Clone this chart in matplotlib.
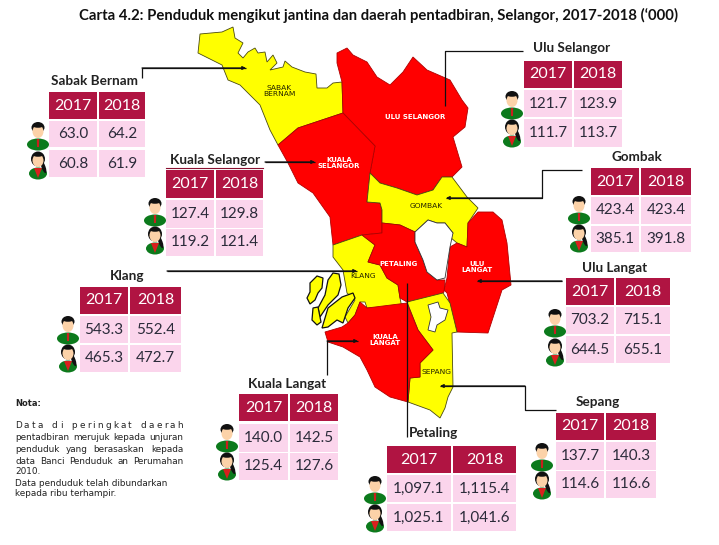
import matplotlib
matplotlib.use('Agg')
import matplotlib.pyplot as plt
from matplotlib.patches import Polygon, Rectangle, Ellipse

plt.rcParams['font.family'] = ['Lato', 'DejaVu Sans']

years = ['2017', '2018']

# lelaki, perempuan ('000)
sabak_bernam = [['63.0', '64.2'], ['60.8', '61.9']]
ulu_selangor = [['121.7', '123.9'], ['111.7', '113.7']]
kuala_selangor = [['127.4', '129.8'], ['119.2', '121.4']]
gombak = [['423.4', '423.4'], ['385.1', '391.8']]
klang = [['543.3', '552.4'], ['465.3', '472.7']]
ulu_langat = [['703.2', '715.1'], ['644.5', '655.1']]
kuala_langat = [['140.0', '142.5'], ['125.4', '127.6']]
sepang = [['137.7', '140.3'], ['114.6', '116.6']]
petaling = [['1,097.1', '1,115.4'], ['1,025.1', '1,041.6']]

RED = '#ff0000'
YELLOW = '#ffff00'
CRIMSON = '#b01442'
PINK = '#fbd5ec'
EDGE = '#4a4a10'

# map outlines, pixel coords
p_sabak = [(200,34),(222,32),(233,27),(235,38),(243,43),(238,53),(243,58),(248,52),(255,48),(258,53),
           (265,52),(267,62),(273,55),(277,63),(270,70),(283,67),(285,61),(292,67),(305,72),(316,74),
           (317,88),(327,88),(333,83),(342,82),(343,113),(298,128),(278,145),(270,130),(260,105),
           (240,85),(228,80),(222,65),(198,53)]
p_kuala_sel = [(343,113),(375,146),(370,173),(367,202),(380,203),(382,210),(382,233),(362,235),(333,245),
               (330,217),(313,193),(298,183),(288,163),(278,145),(298,128)]
p_ulu_sel = [(337,53),(347,48),(353,55),(367,62),(377,77),(390,85),(403,72),(413,57),(427,70),(450,80),
             (462,100),(468,108),(465,127),(453,137),(462,167),(452,177),(442,177),(433,190),(417,195),
             (397,188),(380,183),(370,173),(375,146),(343,113),(342,82),(337,63)]
p_gombak = [(370,173),(380,183),(397,188),(417,195),(433,190),(442,177),(452,177),(467,197),(478,208),
            (468,223),(467,247),(457,243),(450,237),(453,233),(445,223),(437,223),(428,220),(415,232),
            (400,225),(382,223),(382,210),(380,203),(367,202)]
p_kl = [(428,220),(437,223),(445,223),(453,233),(450,247),(445,278),(437,280),(427,272),(423,260),
        (415,242),(415,232)]
p_ulu_langat = [(478,212),(493,212),(502,220),(507,243),(511,285),(502,290),(488,333),(457,332),(447,293),
                (444,290),(447,278),(450,247),(457,243),(467,247),(468,223)]
p_petaling = [(382,223),(400,225),(415,232),(415,242),(423,260),(427,272),(437,280),(445,280),(444,292),
              (433,300),(407,302),(400,298),(398,285),(387,278),(380,265),(368,262),(375,245),(362,235),(382,233)]
p_klang = [(333,245),(362,235),(375,245),(368,262),(380,265),(387,278),(398,285),(400,298),(402,308),(367,308),
           (365,302),(360,302),(355,315),(348,323),(345,317),(355,300),(347,293),(343,270),(333,257)]
p_kuala_langat = [(360,302),(367,308),(407,303),(418,330),(433,350),(420,363),(420,377),(410,378),(408,402),
                  (390,397),(375,387),(367,370),(360,357),(343,347),(328,342),(325,332),(342,327),(348,323),(355,315)]
p_sepang = [(407,302),(443,293),(450,303),(457,332),(452,333),(453,387),(448,397),(445,408),(440,418),
            (430,410),(408,402),(410,378),(420,377),(420,363),(433,350),(418,330)]
p_sepang_hole = [(428,305),(438,302),(440,308),(448,310),(445,320),(437,325),(435,332),(428,330),(431,317)]
islands = [[(310,283),(317,276),(323,278),(322,288),(318,293),(315,300),(310,304),(307,298),(310,292)],
           [(328,280),(333,273),(339,274),(341,285),(338,295),(328,305),(320,317),(318,308),(325,295)],
           [(313,308),(318,307),(321,322),(317,325),(312,320)],
           [(342,297),(353,293),(355,298),(348,308),(343,323),(337,320),(328,327),(322,328),(328,308)]]

fig = plt.figure(figsize=(7.19, 5.45), dpi=100)
ax = fig.add_axes([0, 0, 1, 1])
ax.set_xlim(0, 719)
ax.set_ylim(545, 0)
ax.axis('off')

for pts, col in [(p_sabak, YELLOW), (p_ulu_sel, RED), (p_kuala_sel, RED), (p_gombak, YELLOW),
                 (p_ulu_langat, RED), (p_klang, YELLOW), (p_petaling, RED), (p_sepang, YELLOW),
                 (p_kuala_langat, RED)]:
    ec = EDGE if col == YELLOW else '#b00000'
    ax.add_patch(Polygon(pts, closed=True, fc=col, ec=ec, lw=0.6, zorder=2))
for pts in [p_kl, p_sepang_hole]:
    ax.add_patch(Polygon(pts, closed=True, fc='white', ec='#333333', lw=0.6, zorder=3))
for pts in islands:
    ax.add_patch(Polygon(pts, closed=True, fc=YELLOW, ec='#111111', lw=0.9, zorder=3))

map_labels = [(279, 91, 'SABAK\nBERNAM', 'k'), (415, 117, 'ULU SELANGOR', 'w'), (339, 163, 'KUALA\nSELANGOR', 'w'),
              (426, 206, 'GOMBAK', 'k'), (363, 276, 'KLANG', 'k'), (399, 264, 'PETALING', 'w'),
              (477, 267, 'ULU\nLANGAT', 'w'), (385, 340, 'KUALA\nLANGAT', 'w'), (437, 372, 'SEPANG', 'k')]
for x, y, s, c in map_labels:
    if c == 'w':
        ax.text(x, y, s, color=c, fontsize=5, fontweight='bold', ha='center', va='center',
                linespacing=1.05, zorder=5, family='DejaVu Sans')
    else:
        ax.text(x, y, s, color='#222200', fontsize=5.4, ha='center', va='center',
                linespacing=1.2, zorder=5, family='DejaVu Sans')

# leader lines, last point carries the arrow when the flag says so
leaders = [([(142, 78), (142, 68), (246, 68)], True),
           ([(523, 51), (445, 51), (445, 106)], False),
           ([(265, 162), (315, 162)], True),
           ([(582, 170), (542, 170), (542, 198), (446, 198)], True),
           ([(167, 271), (357, 271)], True),
           ([(562, 281), (477, 281)], True),
           ([(327, 375), (327, 341), (358, 341)], True),
           ([(556, 410), (525, 410), (525, 386), (440, 386)], True),
           ([(407, 437), (407, 283)], False)]
for pts, arrow in leaders:
    xs, ys = zip(*pts)
    ax.plot(xs, ys, color='#111111', lw=0.9, zorder=6, solid_capstyle='butt')
    if arrow:
        ax.annotate('', xy=pts[-1], xytext=pts[-2], zorder=6,
                    arrowprops=dict(arrowstyle='-|>', color='#111111', lw=0.9, mutation_scale=5,
                                    shrinkA=0, shrinkB=0))


def person(cx, cy, female=False):
    # little figure, cy is the middle of it
    w = 18 if female else 22
    ax.add_patch(Ellipse((cx, cy + 8.5), w, 12, fc='#0c7a1c', ec='none', zorder=4))
    if female:
        # red collar, hair falling to the right
        ax.add_patch(Polygon([(cx - 4, cy + 3), (cx + 4, cy + 3), (cx, cy + 13)],
                             closed=True, fc='#d8201e', ec='none', zorder=5))
        ax.add_patch(Ellipse((cx + 5.5, cy + 2), 4, 13, angle=-20, fc='#111111', ec='none', zorder=6))
        ax.add_patch(Ellipse((cx, cy - 6), 14, 15, fc='#111111', ec='none', zorder=6))
    else:
        ax.add_patch(Polygon([(cx - 1.2, cy + 3), (cx + 1.2, cy + 3), (cx + 1, cy + 11), (cx - 1, cy + 11)],
                             closed=True, fc='#c8201e', ec='none', zorder=5))
        ax.add_patch(Ellipse((cx, cy - 8.5), 13, 11, fc='#111111', ec='none', zorder=6))
    ax.add_patch(Ellipse((cx, cy - 4.5), 11, 13, fc='#fcd2a8', ec='none', zorder=7))
    ax.add_patch(Ellipse((cx, cy - 10), 10, 3.5, fc='#111111', ec='none', zorder=8))


def table(name, vals, title_x, title_y, x1, x2, x3, x4, y1, y2, y3, y4, y5, y6, ix, iy1, iy2):
    ax.text(title_x, title_y, name, fontsize=9.7, fontweight='bold', color='#222222', ha='left', va='center', zorder=8)
    cols = [(x1, x2), (x3, x4)]
    for (a, b), yr in zip(cols, years):
        ax.add_patch(Rectangle((a, y1), b - a, y2 - y1, fc=CRIMSON, ec='none', zorder=4))
        ax.text((a + b) / 2, (y1 + y2) / 2, yr, color='white', fontsize=11.5, ha='center', va='center', zorder=8)
    for row, (top, bot) in zip(vals, [(y3, y4), (y5, y6)]):
        for (a, b), v in zip(cols, row):
            ax.add_patch(Rectangle((a, top), b - a, bot - top, fc=PINK, ec='none', zorder=4))
            ax.text((a + b) / 2, (top + bot) / 2, v, color='#2b2b3a', fontsize=11, ha='center', va='center', zorder=8)
    person(ix, iy1)
    person(ix, iy2, female=True)


table('Sabak Bernam', sabak_bernam, 51, 81, 49, 97, 99, 145, 92, 119, 121, 147, 150, 177, 38, 136, 165)
table('Ulu Selangor', ulu_selangor, 533, 48, 524, 572, 574, 622, 61, 88, 90, 117, 119, 147, 512, 105, 133)
table('Kuala Selangor', kuala_selangor, 170, 160, 166, 214, 216, 263, 170, 198, 200, 228, 229, 256, 155, 212, 240)
table('Gombak', gombak, 611, 157, 591, 639, 641, 691, 168, 195, 197, 224, 226, 252, 579, 210, 238)
table('Klang', klang, 110, 276, 80, 128, 130, 181, 287, 314, 316, 343, 345, 372, 68, 330, 358)
table('Ulu Langat', ulu_langat, 582, 268, 566, 614, 616, 670, 278, 305, 307, 334, 336, 363, 555, 323, 352)
table('Kuala Langat', kuala_langat, 248, 384, 239, 288, 290, 338, 394, 421, 424, 452, 453, 480, 227, 438, 466)
table('Sepang', sepang, 576, 402, 556, 604, 606, 656, 413, 440, 442, 470, 471, 498, 542, 457, 485)
table('Petaling', petaling, 409, 433, 387, 451, 453, 516, 446, 473, 475, 502, 504, 531, 375, 490, 518)

ax.plot([166, 263], [168, 168], color='#8a1030', lw=0.8, zorder=6)

ax.text(79, 15, 'Carta 4.2: Penduduk mengikut jantina dan daerah pentadbiran, Selangor, 2017-2018 (\u2018000)',
        fontsize=10.7, fontweight='bold', color='#111111', ha='left', va='center')

# nota
NOTE_FONT = 'DejaVu Sans'
NOTE_SIZE = 6.4
ax.text(15, 404, 'Nota:', fontsize=6, fontweight='bold', color='#222222', va='center', family=NOTE_FONT)
note_lines = [('pentadbiran merujuk kepada unjuran', 438, True),
              ('penduduk yang berasaskan kepada', 449, True),
              ('data Banci Penduduk an Perumahan', 461, True),
              ('2010.', 472, False),
              ('Data penduduk telah dibundarkan', 483, False),
              ('kepada ribu terhampir.', 494, False)]
fig.canvas.draw()
rend = fig.canvas.get_renderer()
inv = ax.transData.inverted()


def spread(tokens, y, weights):
    # stretch tokens from x=15 to x=183, weights give the share of each gap
    items = [ax.text(0, y, w, fontsize=NOTE_SIZE, color='#222222', va='center', family=NOTE_FONT) for w in tokens]
    widths = []
    for t in items:
        bb = t.get_window_extent(rend)
        widths.append(inv.transform((bb.x1, 0))[0] - inv.transform((bb.x0, 0))[0])
    unit = (183 - 15 - sum(widths)) / sum(weights)
    x = 15
    for i, (t, w) in enumerate(zip(items, widths)):
        t.set_x(x)
        if i < len(weights):
            x += w + unit * weights[i]


# first line of the note is letter spaced
first = ['Data', 'di', 'peringkat', 'daerah']
tokens, weights = [], []
for word in first:
    for ch in word:
        tokens.append(ch)
        weights.append(1)
    weights[-1] = 4
spread(tokens, 426, weights[:-1])

for s, y, justify in note_lines:
    if justify:
        words = s.split(' ')
        spread(words, y, [1] * (len(words) - 1))
    else:
        ax.text(15, y, s, fontsize=NOTE_SIZE, color='#222222', va='center', family=NOTE_FONT)

fig.savefig('out.png', dpi=100)
